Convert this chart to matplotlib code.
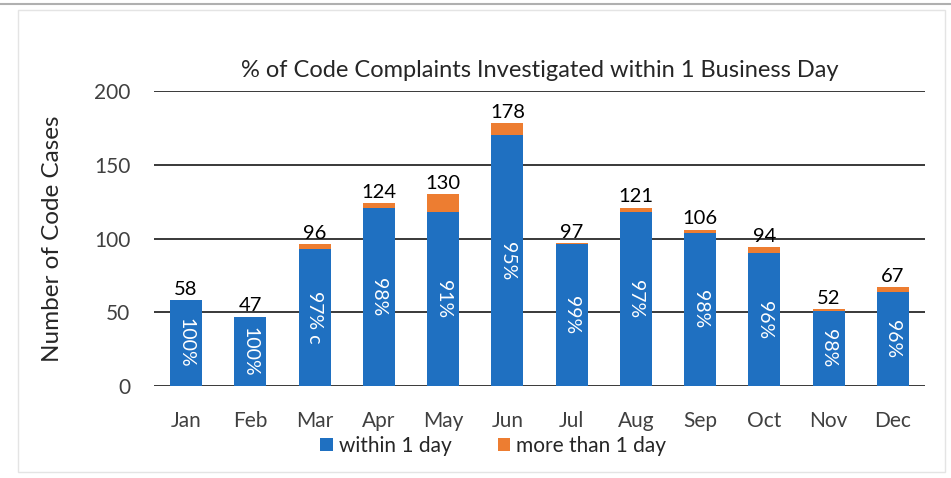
import matplotlib.pyplot as plt
from matplotlib.patches import Rectangle

months = ["Jan", "Feb", "Mar", "Apr", "May", "Jun",
          "Jul", "Aug", "Sep", "Oct", "Nov", "Dec"]
within_1_day = [58, 47, 93, 121, 118, 170, 96, 118, 104, 90, 51, 64]
more_than_1_day = [0, 0, 3, 3, 12, 8, 1, 3, 2, 4, 1, 3]
pct_labels = ["100%", "100%", "97% c", "98%", "91%", "95%",
              "99%", "97%", "98%", "96%", "98%", "96%"]

BLUE = "#1F70C1"
ORANGE = "#ED7D31"

plt.rcParams["font.family"] = ["Lato", "DejaVu Sans"]

fig = plt.figure(figsize=(9.51, 4.78), dpi=100)
ax = fig.add_axes([154 / 951, 1 - 386 / 478, (925 - 154) / 951, (386 - 91) / 478])

x = range(len(months))
totals = [a + b for a, b in zip(within_1_day, more_than_1_day)]

ax.bar(x, within_1_day, width=0.5, color=BLUE, label="within 1 day", zorder=3)
ax.bar(x, more_than_1_day, width=0.5, bottom=within_1_day, color=ORANGE,
       label="more than 1 day", zorder=3)

for i, (w, t, p) in enumerate(zip(within_1_day, totals, pct_labels)):
    ax.text(i, t + 1.5, str(t), ha="center", va="bottom", fontsize=14.5, color="black")
    ax.text(i, w / 2, p, ha="center", va="center", rotation=270,
            fontsize=14, color="white", zorder=4)

ax.set_xlim(-0.5, len(months) - 0.5)
ax.set_ylim(0, 200)
ax.set_yticks([0, 50, 100, 150, 200])
ax.set_xticks(list(x))
ax.set_xticklabels(months, fontsize=15, color="#404040")
ax.tick_params(axis="y", labelsize=15, labelcolor="#404040", length=0, pad=17)
ax.tick_params(axis="x", length=0, pad=18)
ax.grid(axis="y", color="#2a2a2a", linewidth=1.3, zorder=0)
for s in ax.spines.values():
    s.set_visible(False)

ax.set_ylabel("Number of Code Cases", fontsize=17.5, color="#262626", labelpad=22)
ax.set_title("% of Code Complaints Investigated within 1 Business Day",
             fontsize=17, color="#262626", pad=10)

ax.legend(loc="upper center", bbox_to_anchor=(0.44, -0.105), ncol=2, frameon=False,
          fontsize=15, handlelength=0.6, handleheight=0.6, handletextpad=0.3,
          columnspacing=2.2, labelcolor="#262626")

fig.add_artist(Rectangle((18 / 951, 6 / 478), 927 / 951, 462 / 478,
                         transform=fig.transFigure, fill=False,
                         edgecolor="#e4e4e4", linewidth=1))
fig.add_artist(plt.Line2D([0, 1], [1 - 4 / 478, 1 - 4 / 478],
                          transform=fig.transFigure, color="#b0b0b0", linewidth=1.5))

fig.savefig("out.png", dpi=100)
